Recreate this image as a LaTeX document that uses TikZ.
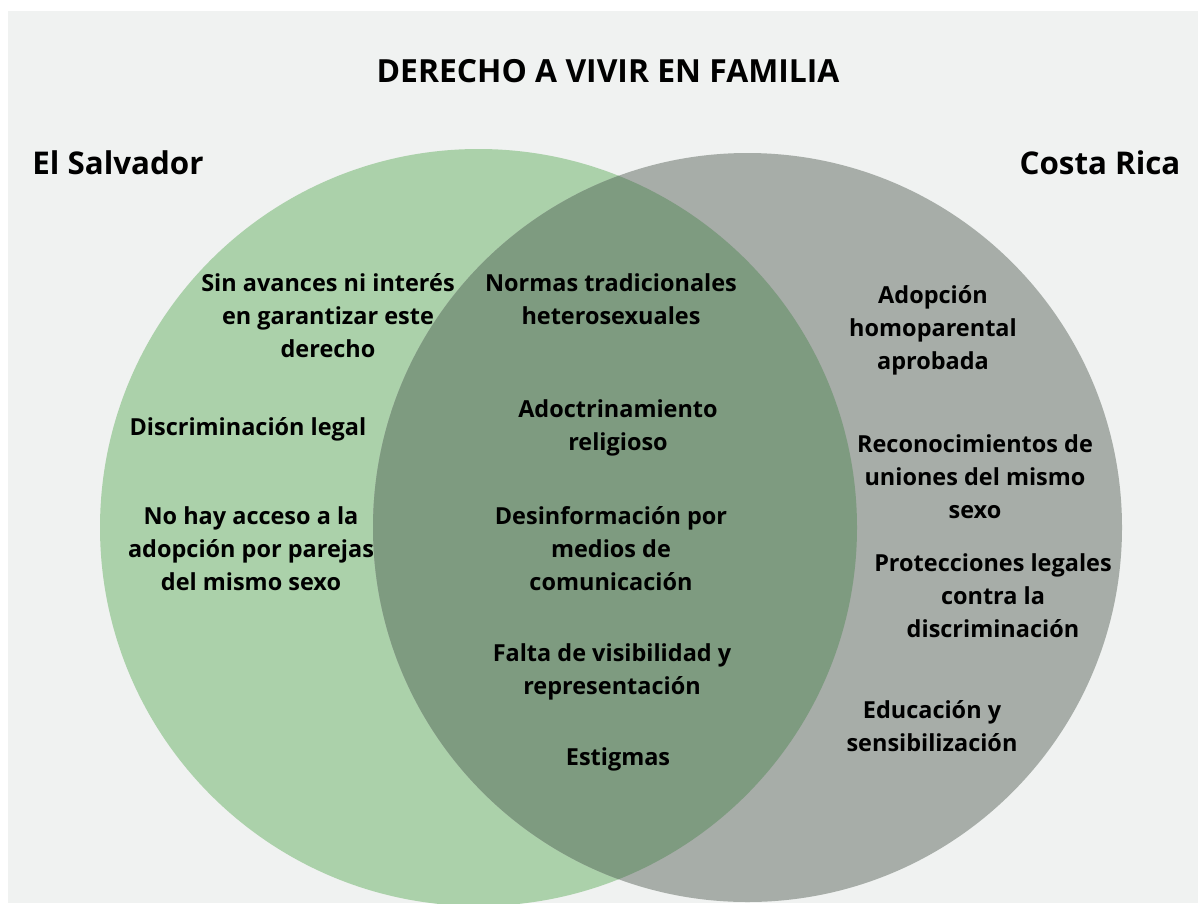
\documentclass[tikz,border=0pt]{standalone}
\usepackage{fontspec}
\setmainfont{Open Sans}
\usepackage{xcolor}
\usepackage{tikz}
\usetikzlibrary{positioning}

\definecolor{panelgray}{HTML}{F0F2F1}
\definecolor{salvgreen}{HTML}{ABD1AA}
\definecolor{ricagray}{HTML}{A7ADA8}
\definecolor{bothgreen}{HTML}{7E9B80}

\tikzset{
  txt/.style={align=center, font=\fontsize{17.6}{24.75}\selectfont\bfseries, text=black, inner sep=0pt},
  country/.style={font=\fontsize{23.5}{28}\selectfont\bfseries, text=black, inner sep=0pt},
}

\begin{document}
\begin{tikzpicture}[x=0.75pt,y=0.75pt,yscale=-1]
\useasboundingbox (0,0) rectangle (1198,903);
\fill[white] (0,0) rectangle (1198,903);
\fill[panelgray] (8,11) rectangle (1198,903);

%Circles
\fill[salvgreen] (478.5,527.5) circle (378.5);
\fill[ricagray] (747.5,527.5) circle (374.5);
\begin{scope}
\clip (478.5,527.5) circle (378.5);
\fill[bothgreen] (747.5,527.5) circle (374.5);
\end{scope}

% Title
\node (title) at (608,71) [inner sep=0pt, font=\fontsize{23.9}{28}\selectfont\bfseries] {DERECHO A VIVIR EN FAMILIA};
\node (salv) at (118,163) [country] {El Salvador};
\node (rica) at (1100,163) [country] {Costa Rica};

% Text Node
\node (avances) at (328,316) [txt] {Sin avances ni interés\\en garantizar este\\derecho};
\node (discrim) at (248,429) [txt] {Discriminación legal};
\node (acceso) at (251,549) [txt] {No hay acceso a la\\adopción por parejas\\del mismo sexo};

\node (normas) at (611,299.5) [txt] {Normas tradicionales\\heterosexuales};
\node (adoctr) at (618,427.5) [txt] {Adoctrinamiento\\religioso};
\node (desinf) at (611,549) [txt] {Desinformación por\\medios de\\comunicación};
\node (falta) at (612,671.5) [txt] {Falta de visibilidad y\\representación};
\node (estig) at (618,759) [txt] {Estigmas};

\node (adopc) at (933,330) [txt] {Adopción\\homoparental\\aprobada};
\node (recon) at (975,477) [txt] {Reconocimientos de\\uniones del mismo\\sexo};
\node (protec) at (993,596) [txt] {Protecciones legales\\contra la\\discriminación};
\node (educ) at (932,726.5) [txt] {Educación y\\sensibilización};
\end{tikzpicture}
\end{document}
